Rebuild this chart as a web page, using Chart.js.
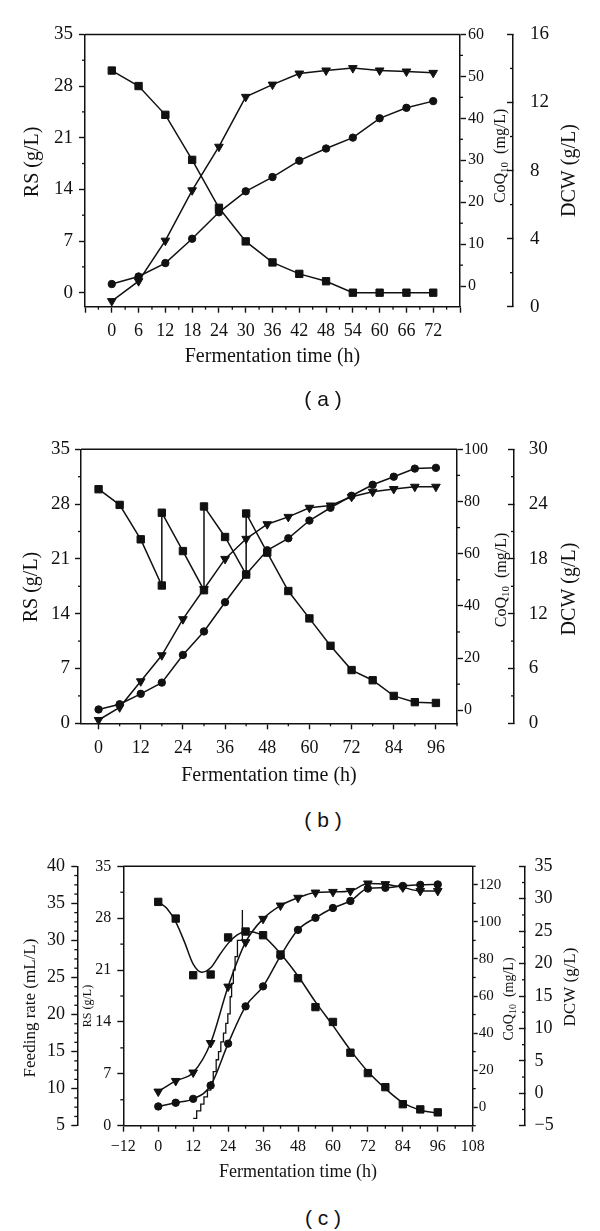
<!DOCTYPE html>
<html>
<head>
<meta charset="utf-8">
<script src="https://cdn.jsdelivr.net/npm/chart.js@4/dist/chart.umd.min.js"></script>
<style>
  body { margin: 0; background: #fff; width: 600px; height: 1231px; position: relative; overflow: hidden; }
  canvas { position: absolute; left: 0; display: block; }
  .cap { position: absolute; left: 263px; width: 120px; text-align: center; line-height: 24px;
         font: 21px "Liberation Sans", Arial, sans-serif; color: #111; }
</style>
</head>
<body>
<canvas id="chartA" width="600" height="372" style="top:0"></canvas>
<canvas id="chartB" width="600" height="380" style="top:410px"></canvas>
<canvas id="chartC" width="600" height="350" style="top:840px"></canvas>
<div class="cap" style="top:387px">( a )</div>
<div class="cap" style="top:808px">( b )</div>
<div class="cap" style="top:1206px">( c )</div>
<script>
// ---- panel (a)
const hoursA = [0, 6, 12, 18, 24, 30, 36, 42, 48, 54, 60, 66, 72];
const rsA  = [30.1, 28.0, 24.1, 18.0, 11.5, 6.95, 4.1, 2.55, 1.55, 0, 0, 0, 0];
const coqA = [0.5, 2.3, 5.5, 11.3, 17.6, 22.6, 26.0, 29.9, 32.8, 35.4, 40.0, 42.5, 44.1];
const dcwA = [0.33, 1.5, 3.88, 6.84, 9.4, 12.33, 13.05, 13.7, 13.88, 14.02, 13.88, 13.82, 13.74];

// ---- panel (b) (RS jumps back up after each sugar feed at 18, 30, 42 h)
const hoursRsB = [0, 6, 12, 18, 18, 24, 30, 30, 36, 42, 42, 48, 54, 60, 66, 72, 78, 84, 90, 96];
const rsB  = [29.9, 27.9, 23.5, 17.6, 26.9, 22.0, 17.0, 27.7, 23.8, 19.0, 26.8, 21.8, 16.9, 13.4, 9.9, 6.8, 5.5, 3.5, 2.7, 2.6];
const hoursB = [0, 6, 12, 18, 24, 30, 36, 42, 48, 54, 60, 66, 72, 78, 84, 90, 96];
const coqB = [0.3, 2.3, 6.3, 10.6, 21.2, 30.2, 41.4, 52.1, 61.3, 65.9, 72.7, 77.6, 82.2, 86.4, 89.5, 92.6, 92.9];
const dcwB = [0.36, 1.75, 4.6, 7.45, 11.4, 14.7, 18.0, 20.2, 21.8, 22.6, 23.6, 23.85, 24.8, 25.35, 25.65, 25.9, 25.9];

// ---- panel (c)
const hoursC = [0, 6, 12, 18, 24, 30, 36, 42, 48, 54, 60, 66, 72, 78, 84, 90, 96];
const rsC  = [30.2, 27.95, 20.3, 20.4, 25.4, 26.2, 25.7, 23.1, 19.9, 16.0, 14.0, 9.85, 7.1, 5.2, 2.9, 2.2, 1.8];
const rsFitHoursC = [0, 3, 6, 9, 12, 15, 18, 21, 24, 27, 30, 33, 36, 42, 48, 54, 60, 66, 72, 78, 84, 90, 96];
const rsFitC = [30.2, 29.3, 27.5, 24.8, 21.8, 20.7, 21.3, 23.0, 24.6, 25.7, 26.2, 26.1, 25.6, 23.2, 20.2, 16.7, 13.5, 10.2, 7.3, 5.0, 3.1, 2.1, 1.7];
const coqC = [0.4, 2.4, 4.5, 11.7, 34.3, 54.4, 65.2, 81.7, 95.7, 102.2, 107.5, 111.3, 118.0, 118.4, 119.4, 120.0, 120.2];
const dcwC = [0.26, 1.9, 3.2, 7.75, 16.45, 23.3, 26.9, 28.95, 30.15, 30.95, 31.05, 31.2, 32.35, 32.25, 31.75, 31.2, 31.2];
const feedHoursC = [12.0, 13.2, 14.6, 15.7, 16.9, 18.0, 18.9, 19.9, 20.7, 21.5, 22.4, 23.2, 23.9, 24.7, 25.2, 25.8, 26.4, 27.2, 28.9];
const feedC = [6.0, 7.0, 7.9, 8.9, 9.8, 10.9, 12.3, 13.9, 15.0, 16.3, 17.5, 18.8, 20.1, 22.4, 24.2, 26.0, 27.8, 30.0, 34.1];

const ink = '#111';
const serif = "'Liberation Serif', 'Times New Roman', serif";

function pts(xs, ys) { return xs.map((x, i) => ({ x: x, y: ys[i] })); }
function range(a, b, s) { const r = []; for (let v = a; v <= b + 1e-9; v += s) r.push(+v.toFixed(3)); return r; }
function fmt(v) { return v < 0 ? '\u2212' + (-v) : String(v); }

function yAxis(o) {
    return {
        type: 'linear', position: o.pos, weight: o.weight || 0, min: o.min, max: o.max,
        afterBuildTicks: s => { s.ticks = o.major.map(v => ({ value: v })); },
        afterFit: s => { s.width = o.width; },
        grid: { drawOnChartArea: false, tickLength: o.tl, tickWidth: 1.4, tickColor: ink },
        border: { display: true, color: ink, width: 1.5 },
        ticks: { color: ink, font: { family: serif, size: o.size }, padding: o.pad, autoSkip: false, callback: v => fmt(v) }
    };
}

function xAxis(o) {
    return {
        type: 'linear', position: 'bottom', min: o.min, max: o.max,
        afterBuildTicks: s => { s.ticks = o.major.map(v => ({ value: v })); },
        afterFit: s => { s.height = o.height; },
        grid: { drawOnChartArea: false, tickLength: 6, tickWidth: 1.4, tickColor: ink },
        border: { display: true, color: ink, width: 1.5 },
        ticks: { color: ink, font: { family: serif, size: o.size }, padding: o.pad, autoSkip: false,
                 maxRotation: 0, minRotation: 0, callback: v => (o.show(v) ? fmt(v) : '') },
        title: { display: true, text: 'Fermentation time (h)', color: ink,
                 font: { family: serif, size: o.titleSize }, padding: { top: 0, bottom: o.titlePad } }
    };
}

// top frame line, short minor ticks, vertical axis titles (read bottom to top)
function decor(minors, titles) {
    return {
        id: 'decor',
        afterDraw(chart) {
            const ctx = chart.ctx, a = chart.chartArea;
            ctx.save();
            ctx.strokeStyle = ink;
            ctx.lineWidth = 1.5;
            ctx.beginPath(); ctx.moveTo(a.left, a.top); ctx.lineTo(a.right, a.top); ctx.stroke();
            ctx.lineWidth = 1.3;
            minors.forEach(m => {
                const s = chart.scales[m.id];
                m.values.forEach(v => {
                    const p = s.getPixelForValue(v);
                    ctx.beginPath();
                    if (s.isHorizontal()) { ctx.moveTo(p, s.top); ctx.lineTo(p, s.top + m.len); }
                    else if (s.position === 'left') { ctx.moveTo(s.right, p); ctx.lineTo(s.right - m.len, p); }
                    else { ctx.moveTo(s.left, p); ctx.lineTo(s.left + m.len, p); }
                    ctx.stroke();
                });
            });
            ctx.fillStyle = ink;
            titles.forEach(t => {
                const s = chart.scales[t.id];
                ctx.save();
                ctx.translate(s.left + t.dx, (a.top + a.bottom) / 2 + t.dy);
                ctx.rotate(-Math.PI / 2);
                ctx.textBaseline = 'middle';
                ctx.textAlign = 'left';
                let w = 0;
                t.parts.forEach(p => { ctx.font = p[1] + 'px ' + serif; w += ctx.measureText(p[0]).width; });
                let cx = -w / 2;
                t.parts.forEach(p => {
                    ctx.font = p[1] + 'px ' + serif;
                    ctx.fillText(p[0], cx, p[2] || 0);
                    cx += ctx.measureText(p[0]).width;
                });
                ctx.restore();
            });
            ctx.restore();
        }
    };
}

function coqTitle(size) {
    return [['CoQ', size], ['10', Math.round(size * 0.68), size * 0.28], ['  (mg/L)', size]];
}

const squares = { pointStyle: 'rect', pointRadius: 5.2 };
const circles = { pointStyle: 'circle', pointRadius: 3.7 };
const triangles = { pointStyle: 'triangle', pointRadius: 5, pointRotation: 180 };

function series(data, axisId, marker, extra) {
    return Object.assign({
        data: data, yAxisID: axisId, borderColor: ink, backgroundColor: ink,
        pointBackgroundColor: ink, pointBorderColor: ink, pointBorderWidth: 1,
        borderWidth: 1.5, tension: 0, clip: false
    }, marker, extra || {});
}

const common = {
    responsive: false, animation: false, events: [],
    plugins: { legend: { display: false }, tooltip: { enabled: false } }
};

// ---------- (a)
new Chart(document.getElementById('chartA'), {
    type: 'line',
    data: { datasets: [
        series(pts(hoursA, rsA), 'yR', squares),
        series(pts(hoursA, coqA), 'yQ', circles),
        series(pts(hoursA, dcwA), 'yD', triangles)
    ] },
    options: Object.assign({}, common, {
        layout: { padding: { top: 33, left: 0, right: 0, bottom: 0 } },
        scales: {
            x: xAxis({ min: -6, max: 78, major: range(-6, 78, 6), show: v => v >= 0 && v <= 72,
                       size: 18, pad: 7.5, height: 65.3, titleSize: 20, titlePad: 3 }),
            yR: yAxis({ pos: 'left', min: -1.9, max: 35, major: range(0, 35, 7), size: 19, tl: 6, pad: 6, width: 85 }),
            yQ: yAxis({ pos: 'right', weight: 0, min: -4.9, max: 60, major: range(0, 60, 10), size: 16, tl: 6, pad: 2, width: 53 }),
            yD: yAxis({ pos: 'right', weight: 1, min: 0, max: 16, major: range(0, 16, 4), size: 19, tl: -6, pad: 23, width: 87 })
        }
    }),
    plugins: [decor([
        { id: 'x', values: range(-3, 75, 6), len: 3 },
        { id: 'yR', values: range(3.5, 31.5, 7), len: 3 },
        { id: 'yQ', values: range(5, 55, 10), len: 3 },
        { id: 'yD', values: range(2, 14, 4), len: -3 }
    ], [
        { id: 'yR', dx: 32.5, dy: -8.7, parts: [['RS (g/L)', 20]] },
        { id: 'yQ', dx: 41, dy: -14.7, parts: coqTitle(16) },
        { id: 'yD', dx: 57, dy: 0, parts: [['DCW (g/L)', 20]] }
    ])]
});

// ---------- (b)
new Chart(document.getElementById('chartB'), {
    type: 'line',
    data: { datasets: [
        series(pts(hoursRsB, rsB), 'yR', squares),
        series(pts(hoursB, coqB), 'yQ', circles),
        series(pts(hoursB, dcwB), 'yD', triangles)
    ] },
    options: Object.assign({}, common, {
        layout: { padding: { top: 39.3, left: 0, right: 0, bottom: 0 } },
        scales: {
            x: xAxis({ min: -5, max: 102, major: range(0, 96, 12), show: v => true,
                       size: 18, pad: 8.4, height: 66.7, titleSize: 20, titlePad: 2 }),
            yR: yAxis({ pos: 'left', min: 0, max: 35, major: range(0, 35, 7), size: 19, tl: 6, pad: 5, width: 81 }),
            yQ: yAxis({ pos: 'right', weight: 0, min: -5, max: 100, major: range(0, 100, 20), size: 16, tl: 6, pad: 1, width: 57 }),
            yD: yAxis({ pos: 'right', weight: 1, min: 0, max: 30, major: range(0, 30, 6), size: 19, tl: -6, pad: 20.7, width: 86 })
        }
    }),
    plugins: [decor([
        { id: 'x', values: range(6, 102, 12), len: 3 },
        { id: 'yR', values: range(3.5, 31.5, 7), len: 3 },
        { id: 'yQ', values: range(10, 90, 20), len: 3 },
        { id: 'yD', values: range(3, 27, 6), len: -3 }
    ], [
        { id: 'yR', dx: 31.6, dy: 0.7, parts: [['RS (g/L)', 20]] },
        { id: 'yQ', dx: 45, dy: -6.3, parts: coqTitle(16) },
        { id: 'yD', dx: 56, dy: 2.7, parts: [['DCW (g/L)', 20]] }
    ])]
});

// ---------- (c)
const feedMinor = range(5, 40, 1.25).filter(v => v % 5 !== 0);
new Chart(document.getElementById('chartC'), {
    type: 'line',
    data: { datasets: [
        series(pts(rsFitHoursC, rsFitC), 'yR', { pointRadius: 0 }, { cubicInterpolationMode: 'monotone' }),
        series(pts(hoursC, rsC), 'yR', squares, { showLine: false }),
        series(pts(hoursC, coqC), 'yQ', circles, { cubicInterpolationMode: 'monotone' }),
        series(pts(hoursC, dcwC), 'yD', triangles, { cubicInterpolationMode: 'monotone' }),
        series(pts(feedHoursC, feedC), 'yF', { pointRadius: 0 }, { stepped: true, borderWidth: 1.3 })
    ] },
    options: Object.assign({}, common, {
        layout: { padding: { top: 26, left: 0, right: 0, bottom: 0 } },
        scales: {
            x: xAxis({ min: -12, max: 108, major: range(-12, 108, 12), show: v => true,
                       size: 16, pad: 5.4, height: 64.3, titleSize: 18, titlePad: 7.2 }),
            yF: yAxis({ pos: 'left', weight: 1, min: 5, max: 40, major: range(5, 40, 5), size: 18, tl: 6, pad: 6.3, width: 77.3 }),
            yR: yAxis({ pos: 'left', weight: 0, min: 0, max: 35, major: range(0, 35, 7), size: 16, tl: 6, pad: 6, width: 46 }),
            yQ: yAxis({ pos: 'right', weight: 0, min: -10, max: 130, major: range(0, 120, 20), size: 15, tl: 5, pad: 1, width: 52.3 }),
            yD: yAxis({ pos: 'right', weight: 1, min: -5, max: 35, major: range(-5, 35, 5), size: 18, tl: -6, pad: 15.5, width: 75 })
        }
    }),
    plugins: [decor([
        { id: 'x', values: range(-6, 102, 12), len: 3 },
        { id: 'yF', values: feedMinor, len: 3 },
        { id: 'yR', values: range(3.5, 31.5, 7), len: 3 },
        { id: 'yQ', values: range(-10, 130, 20), len: 3 },
        { id: 'yD', values: range(-2.5, 32.5, 5), len: -3 }
    ], [
        { id: 'yF', dx: 30.6, dy: 12, parts: [['Feeding rate (mL/L)', 17]] },
        { id: 'yR', dx: 10.7, dy: 10, parts: [['RS (g/L)', 12]] },
        { id: 'yQ', dx: 36.3, dy: 3, parts: coqTitle(14) },
        { id: 'yD', dx: 46, dy: -9, parts: [['DCW (g/L)', 17]] }
    ])]
});
</script>
</body>
</html>
